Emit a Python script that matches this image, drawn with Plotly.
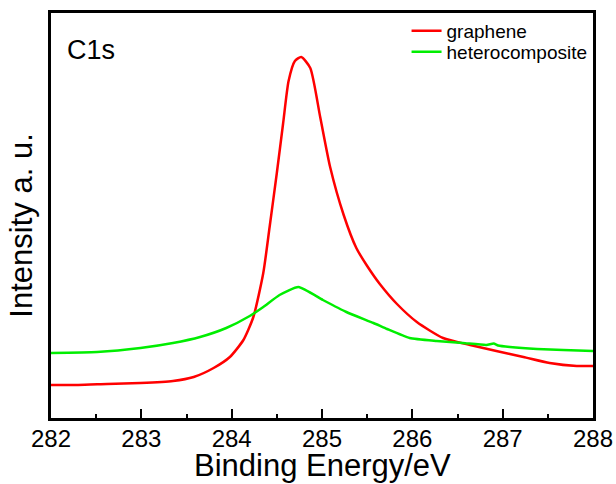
import plotly.graph_objects as go

# Binding energy (eV) and intensity (a.u., arbitrary scale)
graphene_x = [282.0, 282.3, 282.62, 282.99, 283.35, 283.58, 283.80, 283.98, 284.13, 284.24,
              284.35, 284.42, 284.50, 284.57, 284.63, 284.70, 284.77, 284.87, 284.98, 285.09,
              285.24, 285.38, 285.50, 285.64, 285.83, 286.05, 286.34, 286.64, 286.93, 287.23,
              287.52, 287.82, 288.0]
graphene_y = [33, 33, 34, 35, 37, 41, 50, 61, 78, 101,
              145, 191, 245, 295, 337, 357, 361, 350, 301, 251,
              203, 170, 152, 134, 114, 96, 80, 73, 67, 61,
              55, 52, 52]

hetero_x = [282.0, 282.51, 282.99, 283.35, 283.65, 283.94, 284.20, 284.35, 284.53, 284.74,
            285.01, 285.27, 285.57, 285.72, 285.97, 286.27, 286.56, 286.82, 286.90, 286.95,
            287.08, 287.38, 287.67, 288.0]
hetero_y = [65, 66, 70, 75, 81, 90, 102, 111, 123, 131,
            118, 106, 95, 89, 80, 77, 75, 73, 74.5, 72.5,
            71, 69, 68, 67]

x_ticks = [282, 283, 284, 285, 286, 287, 288]

FONT = "Liberation Sans, Arial, sans-serif"

fig = go.Figure()
fig.add_trace(go.Scatter(x=graphene_x, y=graphene_y, mode="lines", name="graphene",
                         legend="legend",
                         line=dict(color="#ff0000", width=2.5, shape="spline", smoothing=0.6)))
fig.add_trace(go.Scatter(x=hetero_x, y=hetero_y, mode="lines", name="heterocomposite",
                         legend="legend2",
                         line=dict(color="#00ee00", width=2.5, shape="spline", smoothing=0.5)))

leg_common = dict(xanchor="left", yanchor="middle", bgcolor="rgba(0,0,0,0)",
                  font=dict(size=19, family=FONT), itemwidth=30)

fig.update_layout(
    width=616, height=484,
    margin=dict(l=51, r=23, t=13, b=66, autoexpand=False),
    paper_bgcolor="white", plot_bgcolor="white",
    font=dict(family=FONT, color="black"),
    showlegend=True,
    legend=dict(x=0.656, y=0.956, **leg_common),
    legend2=dict(x=0.656, y=0.904, **leg_common),
    annotations=[
        dict(text="C1s", x=0.025, y=0.909, xref="paper", yref="paper",
             xanchor="left", yanchor="middle", showarrow=False,
             font=dict(size=27, family=FONT)),
        dict(text="Binding Energy/eV", x=0.5, y=-0.118, xref="paper", yref="paper",
             xanchor="center", yanchor="middle", showarrow=False,
             font=dict(size=31, family=FONT)),
        dict(text="Intensity a. u.", x=-0.0535, y=0.475, xref="paper", yref="paper",
             xanchor="center", yanchor="middle", showarrow=False, textangle=-90,
             font=dict(size=31, family=FONT)),
    ],
)

fig.update_xaxes(
    range=[282, 288], tickvals=x_ticks, ticktext=[str(t) for t in x_ticks],
    ticks="inside", ticklen=9, tickwidth=2, tickcolor="black",
    minor=dict(dtick=0.5, ticks="inside", ticklen=4, tickwidth=2, tickcolor="black"),
    showline=True, linewidth=2.5, linecolor="black", mirror=True,
    showgrid=False, zeroline=False, automargin=False,
    tickfont=dict(size=24, family=FONT), ticklabelstandoff=-3,
)
fig.update_yaxes(
    range=[0, 405], showticklabels=False, ticks="",
    showline=True, linewidth=2.5, linecolor="black", mirror=True,
    showgrid=False, zeroline=False, automargin=False,
)

fig.write_html("out.html", config={"displayModeBar": False},
               post_script="document.body.style.margin='0';document.body.style.padding='0';")
